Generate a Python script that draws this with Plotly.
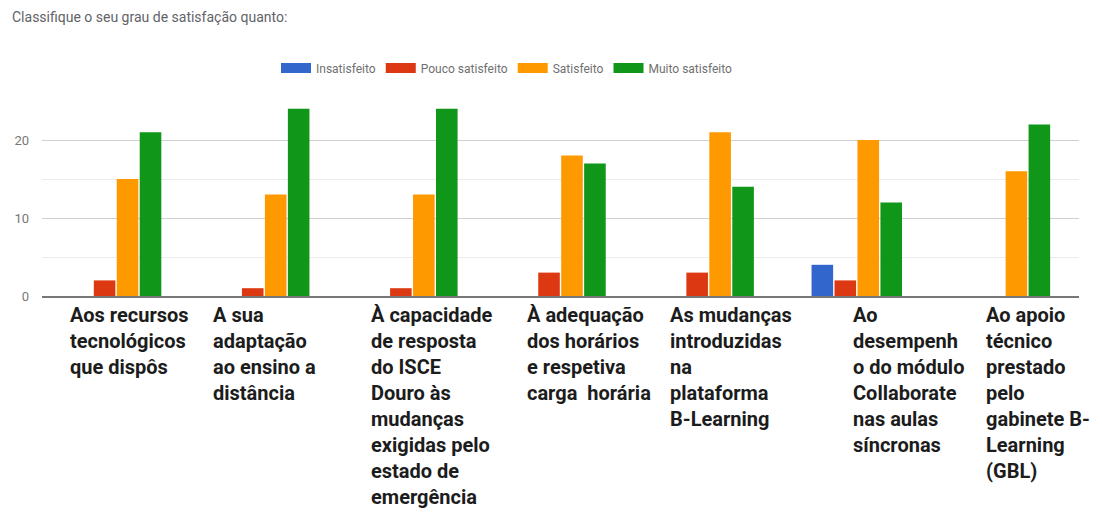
import plotly.graph_objects as go

title_text = "Classifique o seu grau de satisfação quanto:"

categories = [
    "Aos recursos<br>tecnológicos<br>que dispôs",
    "A sua<br>adaptação<br>ao ensino a<br>distância",
    "À capacidade<br>de resposta<br>do ISCE<br>Douro às<br>mudanças<br>exigidas pelo<br>estado de<br>emergência",
    "À adequação<br>dos horários<br>e respetiva<br>carga  horária",
    "As mudanças<br>introduzidas<br>na<br>plataforma<br>B-Learning",
    "Ao<br>desempenh<br>o do módulo<br>Collaborate<br>nas aulas<br>síncronas",
    "Ao apoio<br>técnico<br>prestado<br>pelo<br>gabinete B-<br>Learning<br>(GBL)",
]

series_names = ["Insatisfeito", "Pouco satisfeito", "Satisfeito", "Muito satisfeito"]
insatisfeito = [0, 0, 0, 0, 0, 4, 0]
pouco_satisfeito = [2, 1, 1, 3, 3, 2, 0]
satisfeito = [15, 13, 13, 18, 21, 20, 16]
muito_satisfeito = [21, 24, 24, 17, 14, 12, 22]

y_ticks = [0, 10, 20]

# styling (not data)
colors = ["#3366cc", "#dc3912", "#ff9900", "#109618"]
label_offsets = [-0.32, -0.355, -0.284, -0.23, -0.27, -0.034, -0.135]

fig = go.Figure()
values = [insatisfeito, pouco_satisfeito, satisfeito, muito_satisfeito]
for name, vals, col in zip(series_names, values, colors):
    fig.add_trace(go.Bar(x=categories, y=vals, name=name, marker_color=col,
                         marker_line_width=0, showlegend=False, legendgroup=name))
# legend proxies (wide swatches)
for name, col in zip(series_names, colors):
    fig.add_trace(go.Scatter(x=[None], y=[None], mode="lines", name=name,
                             line=dict(color=col, width=10), legendgroup=name))

annotations = []
for i, (lab, off) in enumerate(zip(categories, label_offsets)):
    annotations.append(dict(
        x=i + off, xref="x", y=0, yref="y", yanchor="top", xanchor="left",
        yshift=-6, text=lab, showarrow=False, align="left",
        font=dict(family="Roboto", size=20, color="#1c1c1c", weight="bold"),
        borderpad=0,
    ))

fig.update_layout(
    width=1102, height=513,
    margin=dict(l=42, r=23, t=101, b=217),
    paper_bgcolor="white", plot_bgcolor="white",
    barmode="group", bargap=0.38, bargroupgap=0.06,
    title=dict(text=title_text, x=12 / 1102, xref="container", xanchor="left",
               y=1 - 17 / 513, yref="container", yanchor="middle",
               font=dict(family="Roboto", size=14, color="#5f6368")),
    legend=dict(orientation="h", xref="container", yref="container",
                x=507 / 1102, xanchor="center", y=1 - 68 / 513, yanchor="middle",
                font=dict(family="Roboto", size=12, color="#707070"),
                itemwidth=30, bgcolor="rgba(0,0,0,0)"),
    annotations=annotations,
    xaxis=dict(showticklabels=False, showgrid=False, showline=True,
               linecolor="#777777", linewidth=2, ticks="", zeroline=False,
               range=[-0.5, len(categories) - 0.5]),
    yaxis=dict(range=[0, 25], tickvals=y_ticks, showgrid=True, gridcolor="#d0d0d0",
               gridwidth=1, zeroline=False, showline=False, ticks="",
               tickfont=dict(family="Roboto", size=13, color="#777777"),
               ticklabelstandoff=12,
               minor=dict(tickvals=[5, 15], showgrid=True, gridcolor="#ececec", gridwidth=1)),
)

fig.write_html("out.html", config={"displayModeBar": False},
               post_script="document.body.style.margin='0';document.body.style.overflow='hidden';")
